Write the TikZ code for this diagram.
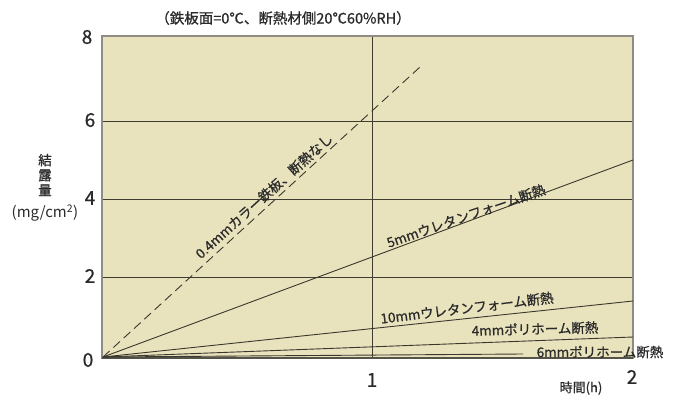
\documentclass[tikz,border=0pt]{standalone}
\usepackage{fontspec}
\setmainfont{Noto Sans CJK JP}[BoldFont=Noto Sans CJK JP, BoldFeatures={FakeBold=0.8}]
\definecolor{plotbg}{HTML}{E9E3BD}
\definecolor{gridc}{HTML}{3E3B30}
\definecolor{borderc}{HTML}{8E8C84}
\definecolor{curvec}{HTML}{3A382E}
\definecolor{textc}{HTML}{2A2A2A}
\begin{document}
\begin{tikzpicture}[x=1pt,y=-1pt,
  gridline/.style={draw=gridc,line width=1pt},
  curve/.style={draw=curvec,line width=0.9pt},
  dashcurve/.style={draw=curvec,line width=0.9pt,dash pattern=on 9pt off 5pt},
  ticklab/.style={text=textc,font=\bfseries\fontsize{19}{21}\selectfont,inner sep=0pt},
  linelab/.style={text=textc,font=\bfseries\fontsize{13.5}{15}\selectfont,inner sep=0pt},
  smalllab/.style={text=textc,font=\bfseries\fontsize{12.5}{15}\selectfont,inner sep=0pt}]
\useasboundingbox (0,0) rectangle (683,396);
% plot area
\fill[plotbg] (102,36) rectangle (633,358);
\coordinate (g6l) at (102,121); \coordinate (g6r) at (633,121);
\coordinate (g4l) at (102,199); \coordinate (g4r) at (633,199);
\coordinate (g2l) at (102,277); \coordinate (g2r) at (633,277);
\coordinate (v1t) at (372,36);  \coordinate (v1b) at (372,358);
\draw[gridline] (g6l) -- (g6r);
\draw[gridline] (g4l) -- (g4r);
\draw[gridline] (g2l) -- (g2r);
\draw[gridline] (v1t) -- (v1b);
\draw[draw=borderc,line width=1.2pt] (102,36) rectangle (633,358);
\draw[draw=gridc!70!borderc,line width=1.6pt] (102,358) -- (633,358);
% curves
\coordinate (O) at (103,357);
\coordinate (dEnd) at (420,67);
\coordinate (u5End) at (633,160);
\coordinate (u10End) at (633,301);
\coordinate (p4End) at (633,337);
\coordinate (p6End) at (523,354);
\draw[dashcurve] (O) -- (dEnd);
\draw[curve] (O) -- (u5End);
\draw[curve] (O) -- (u10End);
\draw[curve] (O) -- (p4End);
\draw[curve] (O) -- (p6End);
% curve labels
\node[linelab,rotate=42] (ldash) at (264,196) {0.4mmカラー鉄板、断熱なし};
\node[linelab,rotate=19] (l5) at (466,216) {5mmウレタンフォーム断熱};
\node[linelab,rotate=7] (l10) at (467,308) {10mmウレタンフォーム断熱};
\node[linelab,rotate=1.5] (l4) at (535,329) {4mmポリホーム断熱};
\node[linelab] (l6) at (600,352) {6mmポリホーム断熱};
% title
\node[smalllab,font=\bfseries\fontsize{14.5}{16}\selectfont] (title) at (283,18) {（鉄板面=0℃、断熱材側20℃60\%RH）};
% y tick labels
\node[ticklab] (y8) at (87,37) {8};
\node[ticklab] (y6) at (90,120) {6};
\node[ticklab] (y4) at (90,198) {4};
\node[ticklab] (y2) at (90,276) {2};
\node[ticklab] (y0) at (88,360) {0};
% x tick labels
\node[ticklab] (x1) at (372,380) {1};
\node[ticklab] (x2) at (632,377) {2};
\node[smalllab,font=\bfseries\fontsize{13}{15}\selectfont] (xlab) at (581,388) {時間(h)};
% y axis label
\node[smalllab,align=center,font=\bfseries\fontsize{13.5}{15}\selectfont] (ylab) at (45,175) {結\\露\\量};
\node[smalllab,font=\fontsize{15}{17}\selectfont] (yunit) at (45,213) {(mg/cm\textsuperscript{2})};
\end{tikzpicture}
\end{document}
